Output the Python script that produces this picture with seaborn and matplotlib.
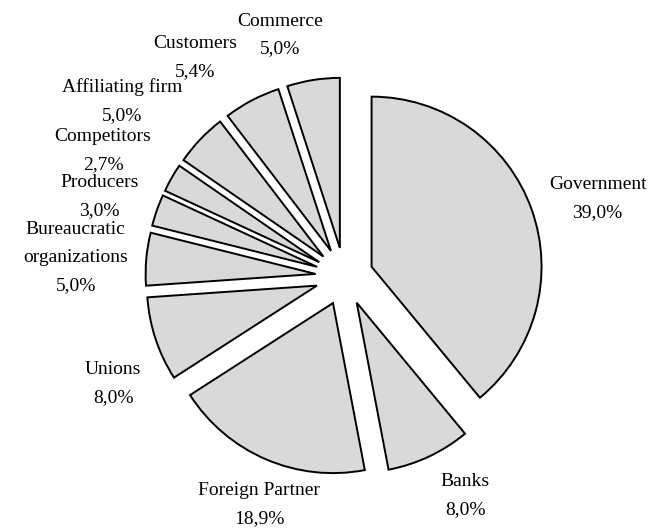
import matplotlib
matplotlib.use("Agg")
import matplotlib.pyplot as plt
import seaborn as sns

# data (share of each actor, %)
categories = ["Government", "Banks", "Foreign Partner", "Unions",
              "Bureaucratic\norganizations", "Producers", "Competitors",
              "Affiliating firm", "Customers", "Commerce"]
shares = [39.0, 8.0, 18.9, 8.0, 5.0, 3.0, 2.7, 5.0, 5.4, 5.0]

# where each label sits (units of pie radius), as in the original
label_pos = [(1.49, 0.46), (0.71, -1.29), (-0.50, -1.34), (-1.36, -0.63),
             (-1.58, 0.11), (-1.44, 0.47), (-1.42, 0.74), (-1.31, 1.03),
             (-0.88, 1.29), (-0.38, 1.42)]

sns.set_theme(style="white")
plt.rcParams["font.family"] = ["Liberation Serif", "DejaVu Serif"]

fig = plt.figure(figsize=(6.58, 5.29), dpi=100)
ax = fig.add_axes([0, 0, 1, 1])

labels = [f"{c}\n{v:.1f}%".replace(".", ",") for c, v in zip(categories, shares)]
wedges, texts = ax.pie(shares, labels=labels, startangle=90, counterclock=False,
                       explode=[0.17] * len(shares), radius=1.0,
                       colors=["#d9d9d9"] * len(shares),
                       wedgeprops=dict(edgecolor="black", linewidth=1.4),
                       textprops=dict(fontsize=14, color="black"))

for t, pos in zip(texts, label_pos):
    t.set_position(pos)
    t.set_ha("center")
    t.set_va("center")
    t.set_linespacing(1.85)

ax.set_xlim(-2.026, 1.845)
ax.set_ylim(-1.485, 1.626)
ax.set_aspect("auto")
ax.axis("off")

fig.savefig("out.png", dpi=100, facecolor="white")
